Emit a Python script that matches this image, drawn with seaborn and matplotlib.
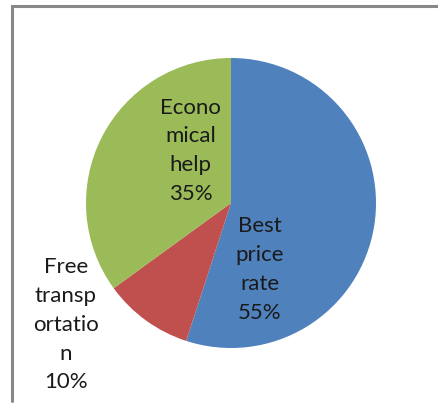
import matplotlib
matplotlib.use("Agg")
import matplotlib.pyplot as plt
import seaborn as sns

# Survey shares
categories = ["Best\nprice\nrate", "Free\ntransp\nortatio\nn", "Econo\nmical\nhelp"]
shares = [55, 10, 35]
colors = ["#4F81BD", "#C0504D", "#9BBB59"]

sns.set_theme(style="white")
plt.rcParams["font.family"] = ["Lato", "DejaVu Sans"]

W, H = 439, 403
fig = plt.figure(figsize=(W / 100, H / 100), dpi=100)
ax = fig.add_axes([0, 0, 1, 1])

cx, cy, r = 231, H - 203, 145
ax.pie(shares, colors=colors, startangle=90, counterclock=False,
       center=(cx, cy), radius=r, frame=True,
       wedgeprops=dict(linewidth=0))
ax.set_xlim(0, W)
ax.set_ylim(0, H)
ax.set_aspect("equal")
ax.axis("off")

# Label offsets in units of the pie radius
offsets = [(0.20, -0.46), (-1.14, -0.84), (-0.28, 0.36)]
for cat, val, (ox, oy) in zip(categories, shares, offsets):
    ax.text(cx + ox * r, cy + oy * r, f"{cat}\n{val}%", ha="center", va="center",
            fontsize=16, linespacing=1.55, color="#1a1a1a")

# Chart-area border on the left and top
ax.plot([12, 12, W], [2, H - 6, H - 6], color="#888888", lw=2.2,
        solid_joinstyle="miter", clip_on=False)

fig.savefig("out.png", dpi=100)
